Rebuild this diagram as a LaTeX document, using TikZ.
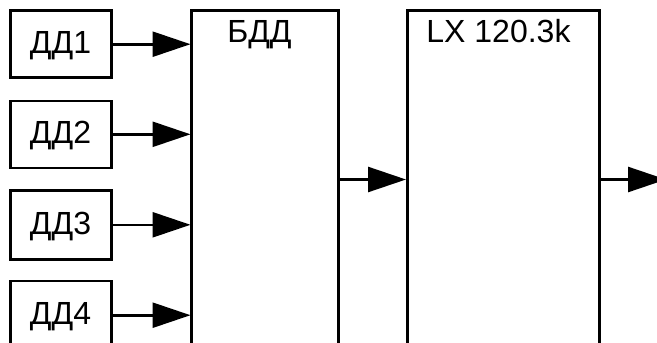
\documentclass[tikz,border=0pt]{standalone}
\usepackage{fontspec}
\setmainfont{Liberation Sans}
\usetikzlibrary{arrows.meta}
\tikzset{
  x=1pt,y=-1pt,
  block/.style={draw=black,line width=2.8pt,rectangle,inner sep=0pt,outer sep=0pt,anchor=north west,fill=none},
  lab/.style={font=\fontsize{32}{36}\selectfont,anchor=base,inner sep=0pt,text=black},
  conn/.style={draw=black,line width=2.6pt,-{Triangle[length=38pt,width=25pt,sep=0pt]},shorten >=0pt}
}
\begin{document}
\begin{tikzpicture}
\useasboundingbox (0,0) rectangle (657,343);
\clip (0,0) rectangle (657,343);
\fill[white] (0,0) rectangle (657,343);
\node[block,minimum width=101pt,minimum height=67pt] (d1) at (10.7,10.8) {};
\node[block,minimum width=101pt,minimum height=67pt] (d2) at (10.7,101) {};
\node[block,minimum width=101pt,minimum height=68.4pt] (d3) at (10.7,190.8) {};
\node[block,minimum width=101pt,minimum height=90pt] (d4) at (10.7,281) {};
\node[block,minimum width=147pt,minimum height=360pt] (b) at (191.7,10.8) {};
\node[block,minimum width=192.2pt,minimum height=360pt] (l) at (407.3,10.8) {};
\node[lab] (t1) at (60.5,53) {ДД1};
\node[lab] (t2) at (60.5,143.5) {ДД2};
\node[lab] (t3) at (60.5,234) {ДД3};
\node[lab] (t4) at (60.5,324.5) {ДД4};
\node[lab] (tb) at (259.5,42.5) {БДД};
\node[lab] (tl) at (498.5,42.5) {LX 120.3k};
\coordinate (c1) at (190.5,44.2);
\coordinate (c2) at (190.5,134.3);
\coordinate (c3) at (190.5,224.8);
\coordinate (c4) at (190.5,315.2);
\coordinate (c5) at (406,179.5);
\coordinate (c6) at (666,179.5);
\draw[conn] (d1.east |- c1) -- (c1);
\draw[conn] (d2.east |- c2) -- (c2);
\draw[conn] (d3.east |- c3) -- (c3);
\draw[conn] (d4.east |- c4) -- (c4);
\draw[conn] (b.east |- c5) -- (c5);
\draw[conn] (l.east |- c6) -- (c6);
\end{tikzpicture}
\end{document}
